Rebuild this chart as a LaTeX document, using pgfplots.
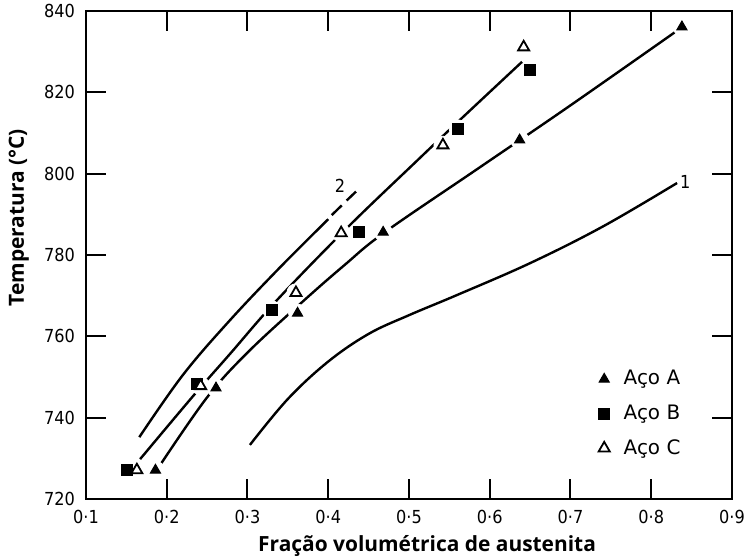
\documentclass[border=0pt]{standalone}
\usepackage{fontspec}
\setmainfont{Open Sans}
\newfontfamily\tickfont{DejaVu Sans Condensed}
\newfontfamily\legfont{DejaVu Sans}
\usepackage{pgfplots}
\usepackage{pgfplotstable}
\pgfplotsset{compat=1.18}

% pontos experimentais (fracao, temperatura)
\pgfplotstableread{
x y
0.186 727.1
0.261 747.3
0.362 765.7
0.468 785.6
0.637 808.3
0.838 836.1
}\acoA
\pgfplotstableread{
x y
0.151 727.1
0.237 748.3
0.330 766.5
0.438 785.6
0.561 811.0
0.650 825.5
}\acoB
\pgfplotstableread{
x y
0.163 727.1
0.242 747.8
0.360 770.7
0.416 785.4
0.542 807.0
0.642 831.1
}\acoC

% marca de escala como retangulo cheio: x1 x2 y1 y2
\newcommand{\tickrect}[4]{\addplot[fill=black, draw=none, forget plot] coordinates {(#1,#3) (#2,#3) (#2,#4) (#1,#4)};}

\begin{document}
\begin{tikzpicture}
\begin{axis}[
  name=ax,
  scale only axis,
  width=323bp, height=244bp,
  xmin=0.1, xmax=0.9, ymin=720, ymax=840,
  xtick={0.1,0.2,0.3,0.4,0.5,0.6,0.7,0.8,0.9},
  xticklabels={0·1,0·2,0·3,0·4,0·5,0·6,0·7,0·8,0·9},
  ytick={720,740,760,780,800,820,840},
  yticklabels={720,740,760,780,800,820,840},
  major tick length=0pt,
  axis line style={line width=1bp},
  ticklabel style={font=\tickfont\fontsize{9}{10}\selectfont},
  xticklabel style={yshift=-2bp},
  yticklabel style={xshift=-2bp},
  xlabel={Fração volumétrica de austenita},
  ylabel={Temperatura (°C)},
  label style={font=\bfseries\fontsize{10.5}{12}\selectfont},
  xlabel style={at={(rel axis cs:0.528,-0.096)}, anchor=center},
  ylabel style={at={(rel axis cs:-0.104,0.576)}, anchor=center},
  legend style={draw=none, fill=none, inner sep=0pt,
    at={(rel axis cs:0.793,0.2725)}, anchor=north west,
    font=\legfont\fontsize{10}{12}\selectfont, row sep=4.5bp,
    cells={anchor=west},
    /tikz/every odd column/.append style={column sep=5bp}},
  legend image post style={xshift=2bp},
]
% marcas de escala para dentro (10bp), embaixo e em cima
\tickrect{0.19876}{0.20124}{720}{724.92}
\tickrect{0.29876}{0.30124}{720}{724.92}
\tickrect{0.39876}{0.40124}{720}{724.92}
\tickrect{0.49876}{0.50124}{720}{724.92}
\tickrect{0.59876}{0.60124}{720}{724.92}
\tickrect{0.69876}{0.70124}{720}{724.92}
\tickrect{0.79876}{0.80124}{720}{724.92}
\tickrect{0.19876}{0.20124}{835.08}{840}
\tickrect{0.29876}{0.30124}{835.08}{840}
\tickrect{0.39876}{0.40124}{835.08}{840}
\tickrect{0.49876}{0.50124}{835.08}{840}
\tickrect{0.59876}{0.60124}{835.08}{840}
\tickrect{0.69876}{0.70124}{835.08}{840}
\tickrect{0.79876}{0.80124}{835.08}{840}
% esquerda e direita
\tickrect{0.1}{0.12477}{739.754}{740.246}
\tickrect{0.1}{0.12477}{759.754}{760.246}
\tickrect{0.1}{0.12477}{779.754}{780.246}
\tickrect{0.1}{0.12477}{799.754}{800.246}
\tickrect{0.1}{0.12477}{819.754}{820.246}
\tickrect{0.87523}{0.9}{739.754}{740.246}
\tickrect{0.87523}{0.9}{759.754}{760.246}
\tickrect{0.87523}{0.9}{779.754}{780.246}
\tickrect{0.87523}{0.9}{799.754}{800.246}
\tickrect{0.87523}{0.9}{819.754}{820.246}
% curvas
\addplot[black, line width=1.2bp, smooth, tension=0.6, forget plot] coordinates {
  (0.303,733.3) (0.350,744.6) (0.400,753.8) (0.450,760.6) (0.500,765.2)
  (0.560,770.2) (0.650,778.0) (0.740,787.0) (0.832,797.7)};
\addplot[black, line width=1.2bp, smooth, tension=0.6, forget plot] coordinates {
  (0.166,735.2) (0.220,750.5) (0.278,763.9) (0.340,776.9) (0.400,788.8)};
\addplot[black, line width=1.2bp, forget plot] coordinates {(0.4043,789.8) (0.4167,792.2)};
\addplot[black, line width=1.2bp, forget plot] coordinates {(0.4228,793.4) (0.4344,795.6)};
\addplot[black, line width=1.2bp, smooth, tension=0.6, forget plot] coordinates {
  (0.167,729.8) (0.233,745.4) (0.278,755.6) (0.336,768.8) (0.423,786.6)
  (0.510,803.2) (0.563,813.2) (0.640,827.5)};
\addplot[black, line width=1.2bp, smooth, tension=0.6, forget plot] coordinates {
  (0.192,728.4) (0.250,745.0) (0.300,756.0) (0.367,768.3) (0.420,777.5)
  (0.470,785.6) (0.588,801.6) (0.700,816.8) (0.833,835.3)};
% falhas brancas em volta dos pontos
\addplot[only marks, mark=*, mark size=4.5bp, white, forget plot] table {\acoA};
\addplot[only marks, mark=*, mark size=4.5bp, white, forget plot] table {\acoB};
\addplot[only marks, mark=*, mark size=4.5bp, white, forget plot] table {\acoC};
% pontos
\addplot[only marks, mark=triangle*, mark size=2.9bp, black,
  mark options={line width=0.5bp}] table {\acoA};
\addlegendentry{Aço A}
\addplot[only marks, mark=square*, mark size=2.75bp, black,
  mark options={line width=0.5bp}] table {\acoB};
\addlegendentry{Aço B}
\addplot[only marks, mark=triangle*, mark size=3.2bp, black,
  mark options={fill=white, line width=0.9bp}] table {\acoC};
\addlegendentry{Aço C}
\node[font=\tickfont\fontsize{9}{10}\selectfont, inner sep=0pt] at (axis cs:0.4146,797.0) {2};
\node[font=\tickfont\fontsize{9}{10}\selectfont, inner sep=0pt] at (axis cs:0.842,798.0) {1};
\end{axis}
\pgfresetboundingbox
\useasboundingbox ([shift={(-43bp,-30.5bp)}]ax.south west) rectangle ([shift={(7.5bp,5.5bp)}]ax.north east);
\end{tikzpicture}
\end{document}
